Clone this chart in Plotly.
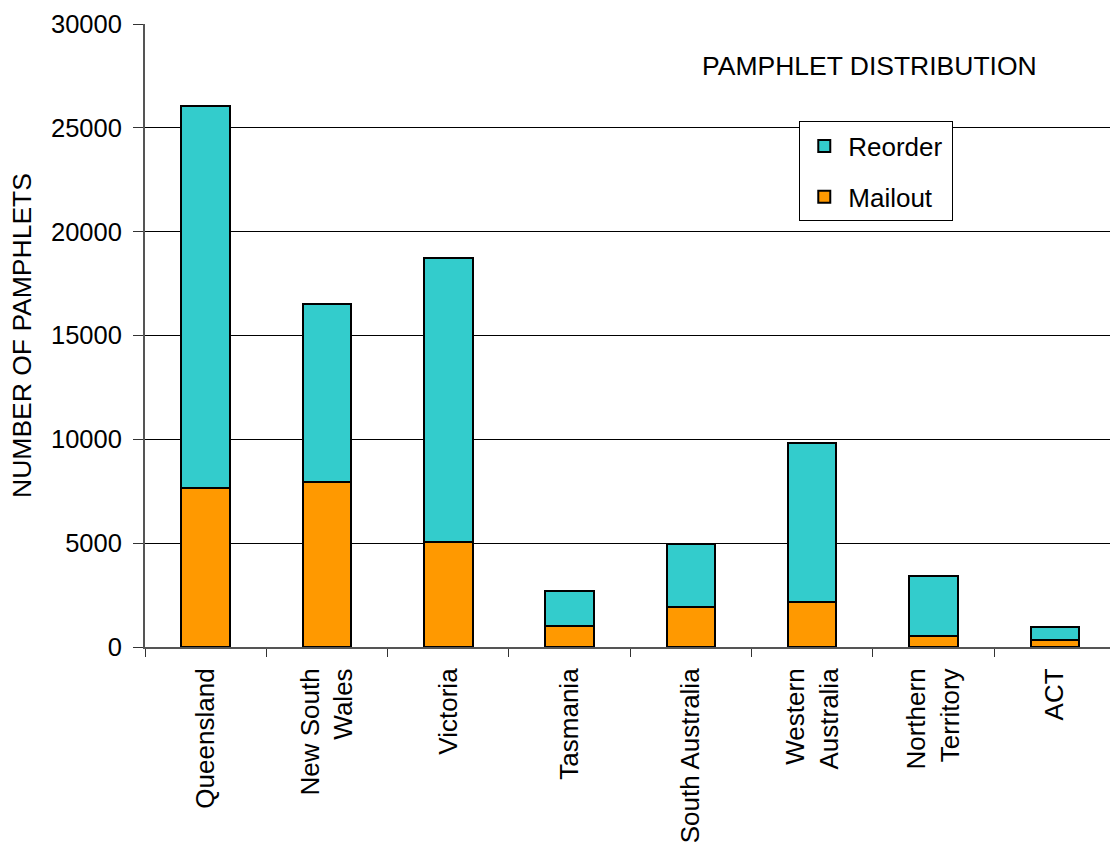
import plotly.graph_objects as go

states = ["Queensland", "New South<br>Wales", "Victoria", "Tasmania",
          "South Australia", "Western<br>Australia", "Northern<br>Territory", "ACT"]
mailout = [7680, 7960, 5080, 990, 1910, 2160, 530, 320]
reorder = [18390, 8570, 13660, 1690, 3040, 7680, 2900, 660]

y_ticks = [0, 5000, 10000, 15000, 20000, 25000, 30000]

FONT = "Liberation Sans, Arial, sans-serif"

fig = go.Figure()
fig.add_trace(go.Bar(
    x=states, y=mailout, name="Mailout\u00a0\u00a0", legendgroup="m", legendrank=2,
    marker=dict(color="#FF9900", line=dict(color="black", width=2)),
    width=0.4,
))
fig.add_trace(go.Bar(
    x=states, y=reorder, name="Reorder", legendgroup="r", legendrank=1,
    marker=dict(color="#33CCCC", line=dict(color="black", width=2)),
    width=0.4,
))

fig.add_annotation(
    text="PAMPHLET DISTRIBUTION", xref="paper", yref="paper",
    x=0.751, y=0.933, showarrow=False, xanchor="center", yanchor="middle",
    font=dict(family=FONT, size=26.5, color="black"),
)

fig.update_layout(
    width=1110, height=844,
    margin=dict(l=145, r=0, t=24, b=197),
    paper_bgcolor="white", plot_bgcolor="white",
    barmode="stack", bargap=0.6,
    font=dict(family=FONT, size=26, color="black"),
    showlegend=True,
    legend=dict(
        x=0.678, y=0.8435, xanchor="left", yanchor="top",
        bordercolor="black", borderwidth=1, bgcolor="white",
        traceorder="grouped", tracegroupgap=14,
        font=dict(family=FONT, size=26), itemwidth=38,
    ),
    xaxis=dict(
        range=[-0.5, 7.455], tickangle=-90, showgrid=False,
        showline=True, linecolor="#555555", linewidth=2,
        ticks="outside", tickson="boundaries", ticklen=8, tickcolor="#333333",
        tickfont=dict(family=FONT, size=26), ticklabelstandoff=9,
    ),
    yaxis=dict(
        range=[0, 30000], tickvals=y_ticks, ticktext=[str(v) for v in y_ticks],
        showgrid=True, gridcolor="black", gridwidth=1,
        showline=True, linecolor="#555555", linewidth=2,
        ticks="outside", ticklen=10, tickcolor="#333333",
        tickfont=dict(family=FONT, size=25.5), ticklabelstandoff=6,
        title=dict(text="NUMBER OF PAMPHLETS", font=dict(family=FONT, size=26.5),
                   standoff=12),
        zeroline=False,
    ),
)

fig.write_html("out.html")
